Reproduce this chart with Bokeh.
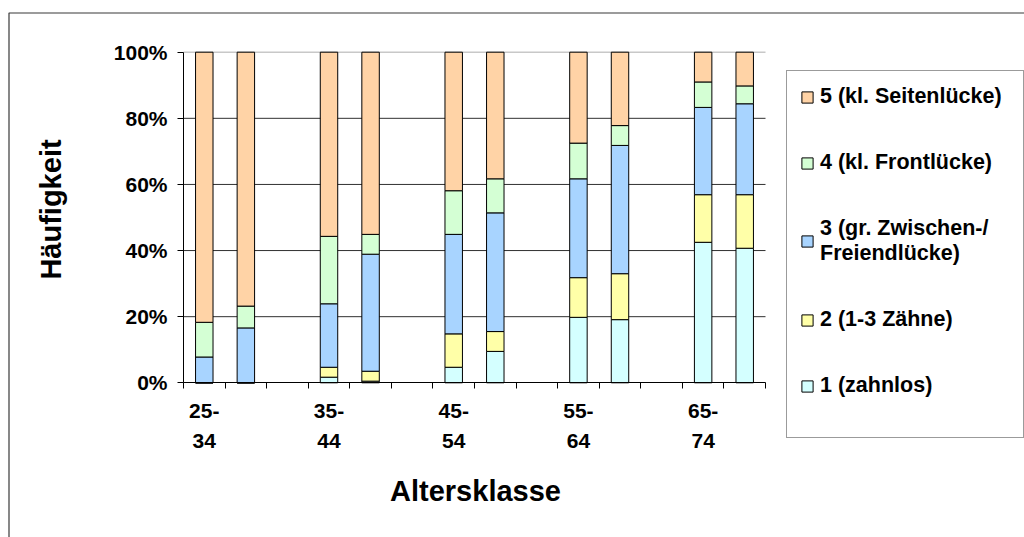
import math
from bokeh.plotting import figure
from bokeh.models import (Range1d, FixedTicker, LinearAxis, Legend, LegendItem,
                          Label, PrintfTickFormatter, BoxAnnotation)
from bokeh.embed import file_html
from bokeh.resources import INLINE

# ---- data (in percent) ----
age_groups = ["25-34", "35-44", "45-54", "55-64", "65-74"]
series_names = ["1 (zahnlos)", "2 (1-3 Zähne)", "3 (gr. Zwischen-/\nFreiendlücke)",
                "4 (kl. Frontlücke)", "5 (kl. Seitenlücke)"]
# two bars per age group
s1 = [0.0, 0.0, 1.7, 0.5, 4.7, 9.5, 19.8, 19.1, 42.5, 40.7]
s2 = [0.0, 0.0, 3.0, 3.0, 10.1, 6.0, 12.0, 13.9, 14.4, 16.2]
s3 = [7.8, 16.6, 19.2, 35.4, 30.1, 35.9, 29.9, 38.8, 26.4, 27.5]
s4 = [10.5, 6.6, 20.4, 6.0, 13.2, 10.3, 10.8, 6.0, 7.7, 5.4]
s5 = [81.7, 76.8, 55.7, 55.1, 41.9, 38.3, 27.5, 22.2, 9.0, 10.2]
y_ticks = [0, 20, 40, 60, 80, 100]
grid_ticks = [20, 40, 60, 80]

colors = ["#D4FFFF", "#FFFFA8", "#A8D4FF", "#D4FFD4", "#FFD3A6"]
FONT = "Liberation Sans"

# category slots: each group uses 2 slots + 1 empty slot
xs = []
for g in range(len(age_groups)):
    xs += [3 * g + 0.5, 3 * g + 1.5]
n_slots = 3 * len(age_groups) - 1
centers = [3 * g + 0.5 for g in range(len(age_groups))]

data = dict(x=xs, s1=s1, s2=s2, s3=s3, s4=s4, s5=s5)

# ---- layout (figure pixels; the frame fills the whole figure) ----
W, H = 1024, 537
PX_L, PX_R = 183.0, 765.0      # plot area left/right
PX_T, PX_B = 51.7, 382.3       # plot area top/bottom
kx = (PX_R - PX_L) / n_slots
ky = (PX_B - PX_T) / 100.0
x0 = -PX_L / kx
x1 = n_slots + (W - PX_R) / kx
y1 = 100 + PX_T / ky
y0 = -(H - PX_B) / ky

def dx(px):
    return x0 + px / kx

def dy(py):
    return y1 - py / ky

p = figure(width=W, height=H, output_backend="svg", toolbar_location=None,
           title=None, x_range=Range1d(x0, x1), y_range=Range1d(y0, y1),
           x_axis_location=None, y_axis_location=None,
           min_border=0, min_border_left=0, min_border_right=0,
           min_border_top=0, min_border_bottom=0)
p.outline_line_color = None
p.background_fill_color = "white"
p.border_fill_color = "white"
p.xgrid.visible = False
p.ygrid.visible = False

# outer chart border (only top and left edges lie inside the window)
p.add_layout(BoxAnnotation(left=dx(8.5), top=dy(12.5), right=x1 + 5, bottom=y0 - 5,
                           fill_alpha=0, line_color="#383838", line_alpha=1.0,
                           line_width=1.2))

# gridlines
p.segment(x0=[0] * len(grid_ticks), x1=[n_slots] * len(grid_ticks),
          y0=grid_ticks, y1=grid_ticks, line_color="#303030", line_width=1)
p.segment(x0=[0], x1=[n_slots], y0=[100], y1=[100], line_color="#C8C8C8", line_width=1.5)

renderers = p.vbar_stack(["s1", "s2", "s3", "s4", "s5"], x="x", width=0.42,
                         source=data, fill_color=colors, line_color="black",
                         line_width=1)

def style_labels(ax, size="21px"):
    ax.major_label_text_font = FONT
    ax.major_label_text_font_style = "bold"
    ax.major_label_text_font_size = size
    ax.major_label_text_color = "black"

# y axis
ya = LinearAxis(fixed_location=0, bounds=(0, 100), ticker=FixedTicker(ticks=y_ticks),
                formatter=PrintfTickFormatter(format="%d%%"))
ya.major_tick_out = 6
ya.major_tick_in = 0
ya.minor_tick_line_color = None
ya.axis_line_color = "black"
ya.major_tick_line_color = "black"
ya.major_label_standoff = 10
style_labels(ya)
p.add_layout(ya, "left")

# x axis: ticks between slots, first line of group labels
xa = LinearAxis(fixed_location=0, bounds=(0, n_slots),
                ticker=FixedTicker(ticks=centers, minor_ticks=list(range(n_slots + 1))))
xa.major_label_overrides = {c: lab.split("-")[0] + "-" for c, lab in zip(centers, age_groups)}
xa.major_tick_line_color = None
xa.major_tick_out = 0
xa.major_tick_in = 0
xa.minor_tick_line_color = "black"
xa.minor_tick_out = 6
xa.minor_tick_in = 0
xa.axis_line_color = "black"
xa.major_label_standoff = 15
style_labels(xa)
p.add_layout(xa, "below")

# second line of group labels
xb = LinearAxis(fixed_location=dy(PX_B + 30.4), bounds=(0, n_slots),
                ticker=FixedTicker(ticks=centers))
xb.major_label_overrides = {c: lab.split("-")[1] for c, lab in zip(centers, age_groups)}
xb.axis_line_color = None
xb.major_tick_line_color = None
xb.minor_tick_line_color = None
xb.major_tick_out = 0
xb.major_tick_in = 0
xb.major_label_standoff = 21
style_labels(xb)
p.add_layout(xb, "below")

# axis titles
p.add_layout(Label(x=dx(475), y=dy(490), text="Altersklasse",
                   text_align="center", text_baseline="middle",
                   text_font=FONT, text_font_style="bold",
                   text_font_size="29px", text_color="black"))
p.add_layout(Label(x=dx(50), y=dy(209), text="Häufigkeit", angle=math.pi / 2,
                   text_align="center", text_baseline="middle",
                   text_font=FONT, text_font_style="bold",
                   text_font_size="29px", text_color="black"))

# legend (top to bottom: 5 .. 1)
items = [LegendItem(label=series_names[i], renderers=[renderers[i]]) for i in range(4, -1, -1)]
legend = Legend(items=items)
legend.padding = 13
legend.spacing = 41
legend.glyph_width = 14
legend.glyph_height = 14
legend.label_standoff = 6
legend.label_width = 190
legend.label_text_font = FONT
legend.label_text_font_style = "bold"
legend.label_text_font_size = "21.5px"
legend.label_text_line_height = 1.2
legend.label_text_color = "black"
legend.border_line_color = "#383838"
legend.border_line_width = 1.2
legend.background_fill_color = "white"
legend.background_fill_alpha = 1
legend.margin = 0
LEG_LEFT, LEG_TOP = 786, 76
leg_h = 337
if "title_location" in Legend.properties():
    legend.title = " "
    legend.title_location = "below"
    legend.title_text_font_size = "18px"
    legend.title_standoff = 5
    leg_h = 362
legend.location = (LEG_LEFT, H - LEG_TOP - leg_h)
p.add_layout(legend, "center")

open("out.html", "w").write(file_html(p, INLINE))
